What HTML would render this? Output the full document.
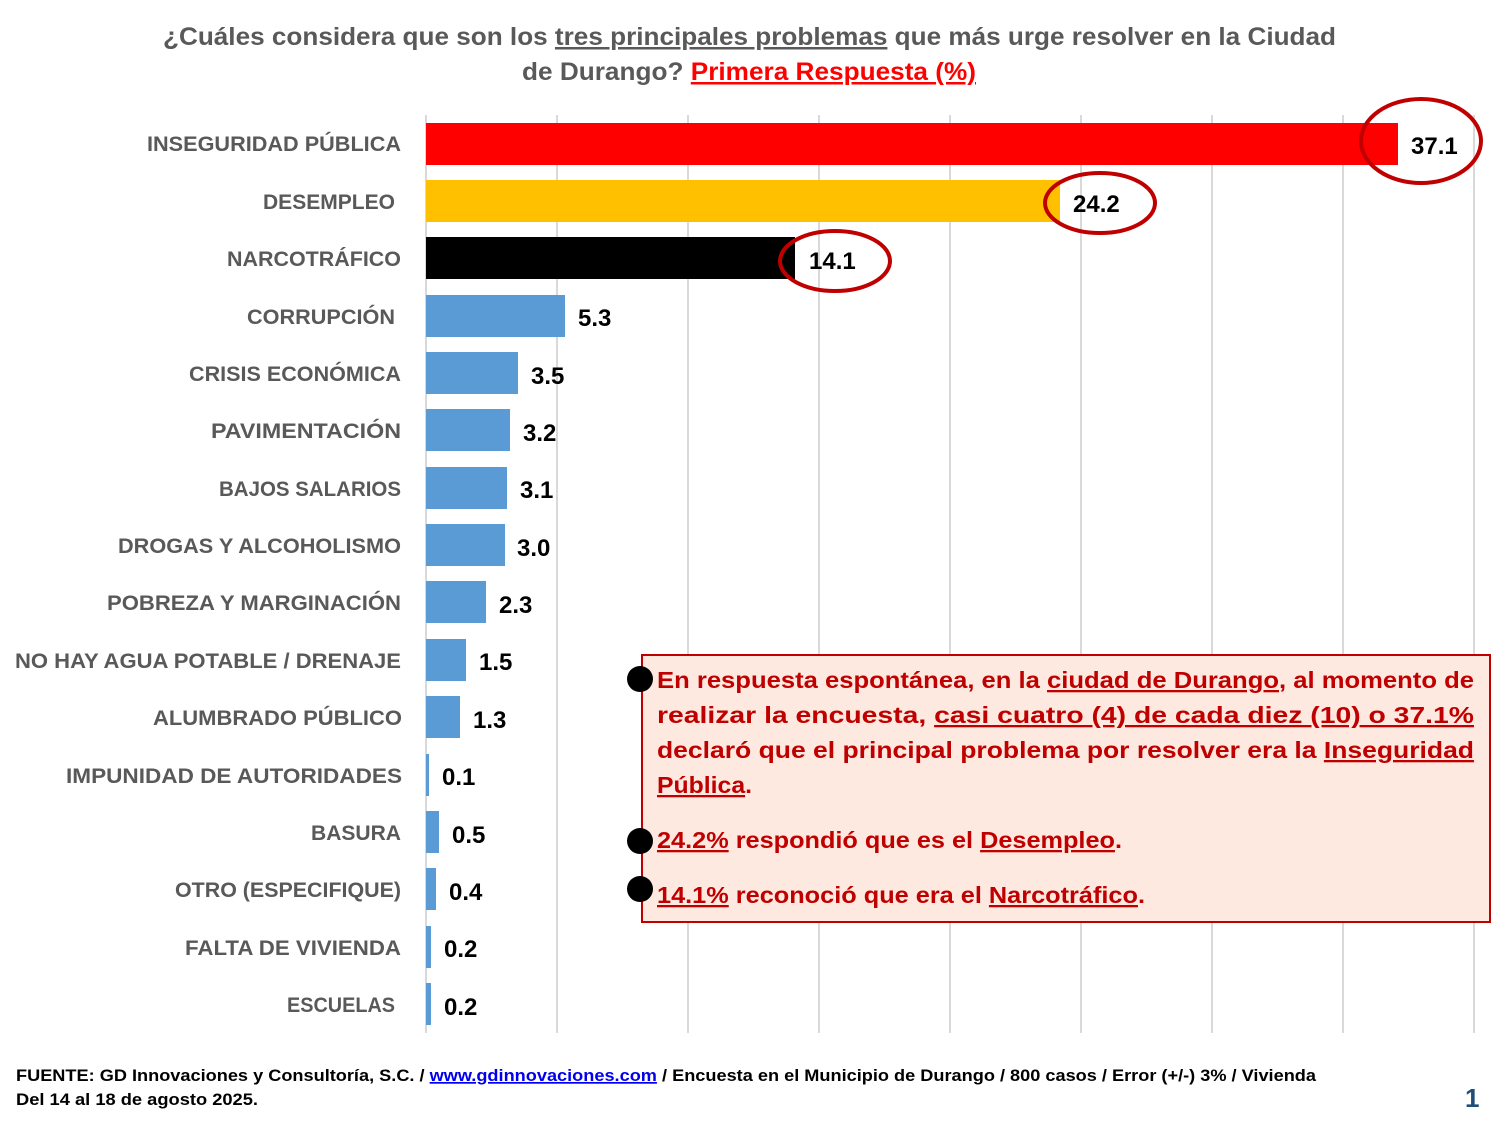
<!DOCTYPE html>
<html><head><meta charset="utf-8"><style>
html,body{margin:0;padding:0;background:#fff}
svg{display:block}
text{font-family:"Liberation Sans",sans-serif;font-weight:bold}
</style></head><body>
<svg width="1503" height="1137" viewBox="0 0 1503 1137" xmlns="http://www.w3.org/2000/svg">
<rect width="1503" height="1137" fill="#fff"/>
<!-- title -->
<text x="163" y="45" font-size="25" fill="#595959" textLength="1173" lengthAdjust="spacingAndGlyphs">¿Cuáles considera que son los <tspan text-decoration="underline">tres principales problemas</tspan> que más urge resolver en la Ciudad</text>
<text x="522" y="80" font-size="25" fill="#595959" textLength="454" lengthAdjust="spacingAndGlyphs">de Durango? <tspan fill="#ff0000" text-decoration="underline">Primera Respuesta (%)</tspan></text>
<!-- gridlines -->
<g stroke="#d9d9d9" stroke-width="2">
<line x1="426" y1="115" x2="426" y2="1033"/>
<line x1="557" y1="115" x2="557" y2="1033"/>
<line x1="688" y1="115" x2="688" y2="1033"/>
<line x1="819" y1="115" x2="819" y2="1033"/>
<line x1="950" y1="115" x2="950" y2="1033"/>
<line x1="1081" y1="115" x2="1081" y2="1033"/>
<line x1="1212" y1="115" x2="1212" y2="1033"/>
<line x1="1343" y1="115" x2="1343" y2="1033"/>
<line x1="1474" y1="115" x2="1474" y2="1033"/>
</g>
<!-- bars -->
<rect x="426" y="123" width="972" height="42" fill="#ff0000"/>
<rect x="426" y="180" width="634" height="42" fill="#ffc000"/>
<rect x="426" y="237" width="369" height="42" fill="#000"/>
<g fill="#5b9bd5">
<rect x="426" y="295" width="139" height="42"/>
<rect x="426" y="352" width="92" height="42"/>
<rect x="426" y="409" width="84" height="42"/>
<rect x="426" y="467" width="81" height="42"/>
<rect x="426" y="524" width="79" height="42"/>
<rect x="426" y="581" width="60" height="42"/>
<rect x="426" y="639" width="40" height="42"/>
<rect x="426" y="696" width="34" height="42"/>
<rect x="426" y="754" width="3" height="42"/>
<rect x="426" y="811" width="13" height="42"/>
<rect x="426" y="868" width="10" height="42"/>
<rect x="426" y="926" width="5" height="42"/>
<rect x="426" y="983" width="5" height="42"/>
</g>
<!-- labels -->
<g font-size="21" fill="#595959" text-anchor="start">
<text x="147" y="151" textLength="254" lengthAdjust="spacingAndGlyphs">INSEGURIDAD PÚBLICA</text>
<text x="263" y="209" textLength="132" lengthAdjust="spacingAndGlyphs">DESEMPLEO</text>
<text x="227" y="266" textLength="174" lengthAdjust="spacingAndGlyphs">NARCOTRÁFICO</text>
<text x="247" y="324" textLength="148" lengthAdjust="spacingAndGlyphs">CORRUPCIÓN</text>
<text x="189" y="381" textLength="212" lengthAdjust="spacingAndGlyphs">CRISIS ECONÓMICA</text>
<text x="211" y="438" textLength="190" lengthAdjust="spacingAndGlyphs">PAVIMENTACIÓN</text>
<text x="219" y="496" textLength="182" lengthAdjust="spacingAndGlyphs">BAJOS SALARIOS</text>
<text x="118" y="553" textLength="283" lengthAdjust="spacingAndGlyphs">DROGAS Y ALCOHOLISMO</text>
<text x="107" y="610" textLength="294" lengthAdjust="spacingAndGlyphs">POBREZA Y MARGINACIÓN</text>
<text x="15" y="668" textLength="386" lengthAdjust="spacingAndGlyphs">NO HAY AGUA POTABLE / DRENAJE</text>
<text x="153" y="725" textLength="249" lengthAdjust="spacingAndGlyphs">ALUMBRADO PÚBLICO</text>
<text x="66" y="783" textLength="336" lengthAdjust="spacingAndGlyphs">IMPUNIDAD DE AUTORIDADES</text>
<text x="311" y="840" textLength="90" lengthAdjust="spacingAndGlyphs">BASURA</text>
<text x="175" y="897" textLength="226" lengthAdjust="spacingAndGlyphs">OTRO (ESPECIFIQUE)</text>
<text x="185" y="955" textLength="216" lengthAdjust="spacingAndGlyphs">FALTA DE VIVIENDA</text>
<text x="287" y="1012" textLength="108" lengthAdjust="spacingAndGlyphs">ESCUELAS</text>
</g>
<!-- values -->
<g font-size="24" fill="#000">
<text x="1411" y="154">37.1</text>
<text x="1073" y="212">24.2</text>
<text x="809" y="269">14.1</text>
<text x="578" y="326">5.3</text>
<text x="531" y="384">3.5</text>
<text x="523" y="441">3.2</text>
<text x="520" y="498">3.1</text>
<text x="517" y="556">3.0</text>
<text x="499" y="613">2.3</text>
<text x="479" y="670">1.5</text>
<text x="473" y="728">1.3</text>
<text x="442" y="785">0.1</text>
<text x="452" y="843">0.5</text>
<text x="449" y="900">0.4</text>
<text x="444" y="957">0.2</text>
<text x="444" y="1015">0.2</text>
</g>
<!-- ellipses -->
<g fill="none" stroke="#c00000" stroke-width="4">
<ellipse cx="1421" cy="141" rx="60" ry="42"/>
<ellipse cx="1100" cy="203" rx="55" ry="30"/>
<ellipse cx="835" cy="261" rx="55" ry="30"/>
</g>
<!-- box -->
<rect x="642" y="655" width="848" height="267" fill="#fde9df" stroke="#c00000" stroke-width="2"/>
<g fill="#000">
<circle cx="640" cy="679" r="13"/>
<circle cx="640" cy="841" r="13"/>
<circle cx="640" cy="889" r="13"/>
</g>
<g font-size="23" fill="#c00000">
<text x="657" y="688" textLength="817" lengthAdjust="spacingAndGlyphs">En respuesta espontánea, en la <tspan text-decoration="underline">ciudad de Durango</tspan>, al momento de</text>
<text x="657" y="723" textLength="817" lengthAdjust="spacingAndGlyphs">realizar la encuesta, <tspan text-decoration="underline">casi cuatro (4) de cada diez (10) o 37.1%</tspan></text>
<text x="657" y="758" textLength="817" lengthAdjust="spacingAndGlyphs">declaró que el principal problema por resolver era la <tspan text-decoration="underline">Inseguridad</tspan></text>
<text x="657" y="793" textLength="95" lengthAdjust="spacingAndGlyphs"><tspan text-decoration="underline">Pública</tspan>.</text>
<text x="657" y="848" textLength="465" lengthAdjust="spacingAndGlyphs"><tspan text-decoration="underline">24.2%</tspan> respondió que es el <tspan text-decoration="underline">Desempleo</tspan>.</text>
<text x="657" y="903" textLength="488" lengthAdjust="spacingAndGlyphs"><tspan text-decoration="underline">14.1%</tspan> reconoció que era el <tspan text-decoration="underline">Narcotráfico</tspan>.</text>
</g>
<!-- footer -->
<text x="16" y="1081" font-size="17" fill="#000" textLength="1300" lengthAdjust="spacingAndGlyphs">FUENTE: GD Innovaciones y Consultoría, S.C. / <tspan fill="#0000ee" text-decoration="underline">www.gdinnovaciones.com</tspan> / Encuesta en el Municipio de Durango / 800 casos / Error (+/-) 3% / Vivienda</text>
<text x="16" y="1105" font-size="17" fill="#000" textLength="242" lengthAdjust="spacingAndGlyphs">Del 14 al 18 de agosto 2025.</text>
<text x="1465" y="1107" font-size="26" fill="#1f4e79">1</text>
</svg>
</body></html>
